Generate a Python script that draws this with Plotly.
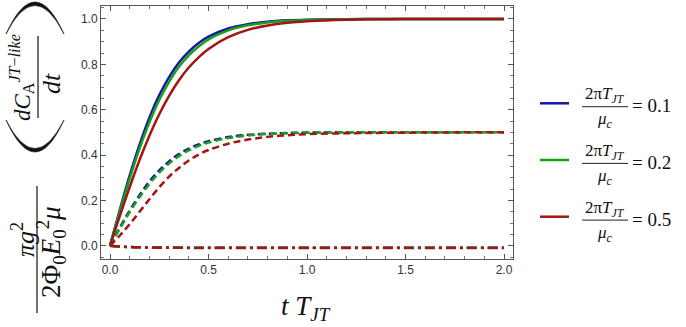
import plotly.graph_objects as go

# ---- data ----
t = [0, 0.05, 0.1, 0.15, 0.2, 0.25, 0.3, 0.35, 0.4, 0.45, 0.5, 0.6, 0.7, 0.8, 0.9, 1.0, 1.2, 1.4, 1.6, 1.8, 2.0]

solid_01 = [0, 0.159, 0.310, 0.446, 0.565, 0.664, 0.744, 0.808, 0.856, 0.894, 0.922, 0.958, 0.977, 0.988, 0.994, 0.997, 0.999, 1.0, 1.0, 1.0, 1.0]
solid_02 = [0, 0.151, 0.296, 0.428, 0.544, 0.643, 0.723, 0.789, 0.840, 0.879, 0.910, 0.950, 0.972, 0.985, 0.992, 0.996, 0.999, 1.0, 1.0, 1.0, 1.0]
solid_05 = [0, 0.132, 0.259, 0.378, 0.485, 0.580, 0.661, 0.730, 0.786, 0.831, 0.868, 0.920, 0.952, 0.971, 0.983, 0.990, 0.997, 0.999, 1.0, 1.0, 1.0]

dash_01 = [0, 0.080, 0.155, 0.223, 0.283, 0.332, 0.372, 0.404, 0.428, 0.447, 0.461, 0.479, 0.489, 0.494, 0.497, 0.499, 0.5, 0.5, 0.5, 0.5, 0.5]
dash_02 = [0, 0.076, 0.148, 0.214, 0.272, 0.322, 0.362, 0.395, 0.420, 0.440, 0.455, 0.475, 0.486, 0.493, 0.496, 0.498, 0.5, 0.5, 0.5, 0.5, 0.5]
dash_05 = [0, 0.045, 0.095, 0.150, 0.205, 0.258, 0.305, 0.343, 0.376, 0.402, 0.422, 0.450, 0.468, 0.480, 0.487, 0.492, 0.496, 0.498, 0.499, 0.5, 0.5]

dd_01 = [0, -0.004, -0.006, -0.007, -0.008, -0.008, -0.008, -0.009, -0.009, -0.009, -0.009, -0.009, -0.009, -0.009, -0.009, -0.009, -0.009, -0.009, -0.009, -0.009, -0.009]
dd_02 = [0, -0.004, -0.006, -0.007, -0.008, -0.008, -0.009, -0.009, -0.009, -0.009, -0.009, -0.009, -0.009, -0.009, -0.009, -0.009, -0.009, -0.009, -0.009, -0.009, -0.009]
dd_05 = [0, -0.004, -0.006, -0.007, -0.008, -0.009, -0.009, -0.009, -0.010, -0.010, -0.010, -0.010, -0.010, -0.010, -0.010, -0.010, -0.010, -0.010, -0.010, -0.010, -0.010]

legend_values = ["0.1", "0.2", "0.5"]
x_ticks = [0.0, 0.5, 1.0, 1.5, 2.0]
y_ticks = [0.0, 0.2, 0.4, 0.6, 0.8, 1.0]

BLUE = "#1717a3"
GREEN = "#17a317"
RED = "#a51414"
colors = [BLUE, GREEN, RED]

W, H = 686, 327
L, R, T, B = 101, 173, 6, 68
PW, PH = W - L - R, H - T - B


def px(X):
    return (X - L) / PW


def py(Y):
    return (H - B - Y) / PH


fig = go.Figure()
series = [
    (solid_01, dash_01, dd_01),
    (solid_02, dash_02, dd_02),
    (solid_05, dash_05, dd_05),
]
for (s, d, dd), c in zip(series, colors):
    fig.add_trace(go.Scatter(x=t, y=dd, mode="lines", line=dict(color=c, width=2.5, dash="10px,4px,3px,4px", shape="spline"), showlegend=False))
for (s, d, dd), c in zip(series, colors):
    fig.add_trace(go.Scatter(x=t, y=d, mode="lines", line=dict(color=c, width=2.5, dash="7px,4px", shape="spline"), showlegend=False))
for (s, d, dd), c in zip(series, colors):
    fig.add_trace(go.Scatter(x=t, y=s, mode="lines", line=dict(color=c, width=2.5, shape="spline"), showlegend=False))

axis_common = dict(
    showline=True, linecolor="#555", linewidth=1, mirror="allticks",
    ticks="inside", ticklen=5, tickcolor="#555", tickwidth=1,
    showgrid=False, zeroline=False,
    tickfont=dict(family="Liberation Sans, Arial", size=12, color="#333"),
)
fig.update_xaxes(range=[-0.0457, 2.0457], tickvals=x_ticks, ticktext=[f"{v:.1f}" for v in x_ticks],
                 minor=dict(ticks="inside", ticklen=3, dtick=0.1, tick0=0, tickcolor="#777"), **axis_common)
fig.update_yaxes(range=[-0.0587, 1.0573], tickvals=y_ticks, ticktext=[f"{v:.1f}" for v in y_ticks],
                 minor=dict(ticks="inside", ticklen=3, dtick=0.05, tick0=0, tickcolor="#777"), **axis_common)

SERIF = "Liberation Serif, Times New Roman, serif"
ann = []
shapes = []


def text(X, Y, s, size, angle=0, xanchor="center"):
    ann.append(dict(x=px(X), y=py(Y), xref="paper", yref="paper", text=s, showarrow=False,
                    font=dict(family=SERIF, size=size, color="#111"), textangle=angle,
                    xanchor=xanchor, yanchor="middle"))


def hline(X0, X1, Y, w=1.2, c="#111"):
    shapes.append(dict(type="line", xref="paper", yref="paper", x0=px(X0), x1=px(X1), y0=py(Y), y1=py(Y), line=dict(color=c, width=w)))


def vline(X, Y0, Y1, w=1.2, c="#111"):
    shapes.append(dict(type="line", xref="paper", yref="paper", x0=px(X), x1=px(X), y0=py(Y0), y1=py(Y1), line=dict(color=c, width=w)))


def arch(X0, X1, Yend, Yout, Yin):
    # crescent-shaped big parenthesis lying on its side
    xm = (X0 + X1) / 2
    co = 2 * Yout - Yend
    ci = 2 * Yin - Yend
    p = (f"M {px(X0)},{py(Yend)} Q {px(xm)},{py(co)} {px(X1)},{py(Yend)} "
         f"Q {px(xm)},{py(ci)} {px(X0)},{py(Yend)} Z")
    shapes.append(dict(type="path", xref="paper", yref="paper", path=p,
                       fillcolor="#111", line=dict(color="#111", width=0.6)))


# y-axis title (rotated)
text(23, 240, "<i>πg</i><sup>2</sup>", 26, -90)
vline(37, 186, 313)
text(51, 252, "2Φ<sub>0</sub><i>E</i><sub>0</sub><sup>2</sup><i>μ</i>", 27, -90)
arch(6, 64, 34, 2, 5.5)
text(21, 78, "<i>dC</i><sub>A</sub><sup><i>JT</i>−<i>like</i></sup>", 23, -90)
vline(38, 36, 118)
text(51, 84, "<i>dt</i>", 26, -90)
arch(6, 64, 120, 152, 148.5)

# x-axis title
text(306, 308, "<i>t</i> <i>T</i><sub><i>JT</i></sub>", 27)

# legend
for i, (c, v) in enumerate(zip(colors, legend_values)):
    yb = 106.7 + 56.7 * i
    hline(540, 569, yb - 3.4, w=2.5, c=c)
    text(605, yb - 11.5, "2π<i>T</i><sub><i>JT</i></sub>", 17)
    hline(582, 628, yb, w=1, c="#222")
    text(605, yb + 13.5, "<i>μ</i><sub><i>c</i></sub>", 17)
    text(630, yb - 1, "= " + v, 19, xanchor="left")

fig.update_layout(
    width=W, height=H, margin=dict(l=L, r=R, t=T, b=B),
    paper_bgcolor="white", plot_bgcolor="white",
    annotations=ann, shapes=shapes, showlegend=False,
)

fig.write_html("out.html", config={"displayModeBar": False},
               post_script="document.body.style.margin='0px';")
